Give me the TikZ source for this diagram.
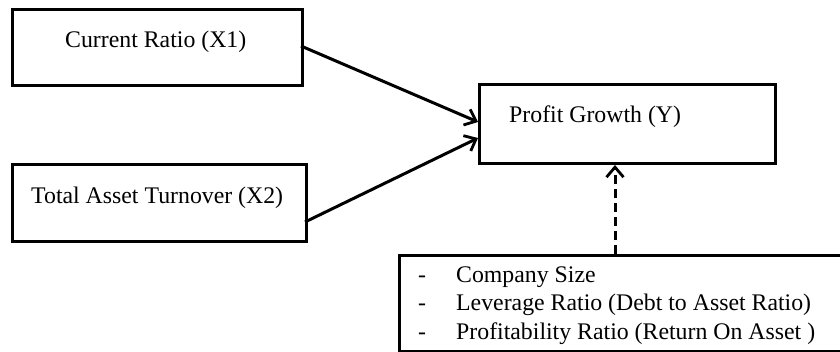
\documentclass[tikz,border=0pt]{standalone}
\usepackage{fontspec}
\setmainfont{Liberation Serif}
\usetikzlibrary{arrows.meta}
\begin{document}
\begin{tikzpicture}[x=1pt,y=-1pt,
  boxstyle/.style={draw,line width=3pt},
  lbl/.style={font=\fontsize{23.8}{28}\selectfont,inner sep=0pt,anchor=base west},
  arr/.style={line width=3pt,-{Straight Barb[length=10pt,width=17pt,line width=2.8pt]}}]
\useasboundingbox (0,0) rectangle (840,352);
\node[boxstyle,minimum width=290pt,minimum height=76pt,anchor=north west] (x1) at (11,8) {};
\node[boxstyle,minimum width=294pt,minimum height=77pt,anchor=north west] (x2) at (11,163) {};
\node[boxstyle,minimum width=296pt,minimum height=79pt,anchor=north west] (y) at (478,83) {};
\node[boxstyle,minimum width=444pt,minimum height=96pt,anchor=north west] (c) at (398,254) {};
\node[lbl] (t1) at (65,48) {Current Ratio (X1)};
\node[lbl] (t2) at (31,204) {Total Asset Turnover (X2)};
\node[lbl] (t3) at (509,123) {Profit Growth (Y)};
\node[lbl] (d1) at (418,283) {-};
\node[lbl] (d2) at (418,311) {-};
\node[lbl] (d3) at (418,339) {-};
\node[lbl] (c1) at (456,283) {Company Size};
\node[lbl] (c2) at (456,311) {Leverage Ratio (Debt to Asset Ratio)};
\node[lbl] (c3) at (456,339) {Profitability Ratio (Return On Asset )};
\coordinate (a1s) at (301,46);
\coordinate (a1e) at (478,122);
\coordinate (a2s) at (305,222);
\coordinate (a2e) at (478,138);
\draw[arr] (a1s) -- (a1e);
\draw[arr] (a2s) -- (a2e);
\draw[arr,dashed,dash pattern=on 9pt off 5pt] (c.north -| 615,0) -- (y.south -| 615,0);
\end{tikzpicture}
\end{document}
